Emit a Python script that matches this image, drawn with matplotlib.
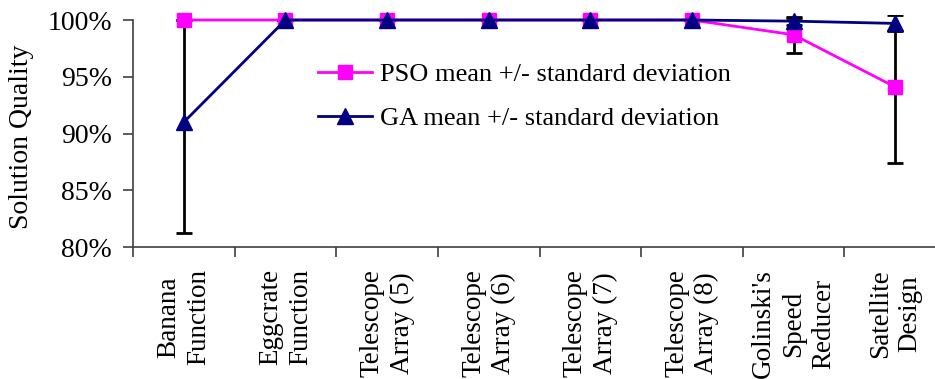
import matplotlib
matplotlib.use("Agg")
import matplotlib.pyplot as plt
import numpy as np

# problems on the x axis (two-line labels)
problems = ["Banana\nFunction", "Eggcrate\nFunction", "Telescope\nArray (5)",
            "Telescope\nArray (6)", "Telescope\nArray (7)", "Telescope\nArray (8)",
            "Golinski's\nSpeed\nReducer", "Satellite\nDesign"]

# mean solution quality (%) and standard deviation
pso_mean = [100.0, 100.0, 100.0, 100.0, 100.0, 100.0, 98.7, 94.1]
pso_std = [0.0, 0.0, 0.0, 0.0, 0.0, 0.0, 1.6, 6.7]
ga_mean = [91.0, 100.0, 100.0, 100.0, 100.0, 100.0, 99.9, 99.7]
ga_std = [9.8, 0.0, 0.0, 0.0, 0.0, 0.0, 0.3, 0.7]

yticks = [80, 85, 90, 95, 100]

plt.rcParams['font.family'] = ['Liberation Serif', 'DejaVu Serif']

W, H = 935, 379
fig = plt.figure(figsize=(W / 100, H / 100), dpi=100)
left, right, top, bottom = 133, 946, 14.9, 247
ax = fig.add_axes([left / W, 1 - bottom / H, (right - left) / W, (bottom - top) / H])

x = np.arange(len(problems))

# error bars first so the markers sit on top
for m, s in [(pso_mean, pso_std), (ga_mean, ga_std)]:
    ax.errorbar(x, m, yerr=s, fmt='none', ecolor='black', elinewidth=2,
                capsize=6, capthick=2, zorder=2)

pso, = ax.plot(x, pso_mean, color='#FF00FF', lw=2, marker='s', markersize=10,
               label='PSO mean +/- standard deviation', zorder=3, clip_on=False)
ga, = ax.plot(x, ga_mean, color='#000080', lw=2, marker='^', markersize=11,
              label='GA mean +/- standard deviation', zorder=4, clip_on=False)

ax.set_xlim(-0.5, len(problems) - 0.5)
ax.set_ylim(80, 100.45)

for sp in ['top', 'right']:
    ax.spines[sp].set_visible(False)
ax.spines['left'].set_bounds(80, 100)
for sp in ['left', 'bottom']:
    ax.spines[sp].set_color('#404040')
    ax.spines[sp].set_linewidth(1.2)

ax.set_yticks(yticks)
ax.set_yticklabels([f"{v}%" for v in yticks], fontsize=20)
ax.tick_params(axis='y', length=7, width=1.2, color='#404040', pad=8)

# category boundaries as major ticks, labels at category centres
ax.set_xticks(np.arange(len(problems) + 1) - 0.5)
ax.set_xticklabels([])
ax.tick_params(axis='x', which='major', length=7, width=1.2, color='#404040')
ax.set_xticks(x, minor=True)
ax.set_xticklabels(problems, minor=True, rotation=90, fontsize=19.5,
                   va='top', ha='center', multialignment='center',
                   linespacing=1.25)
ax.tick_params(axis='x', which='minor', length=0, pad=16)

fig.text(22 / W, 1 - 137 / H, "Solution Quality", rotation=90, fontsize=20,
         ha='center', va='center')

ax.legend(handles=[pso, ga], loc='upper left', bbox_to_anchor=(0.215, 0.84),
          frameon=False, fontsize=19, handlelength=2.05, handletextpad=0.3,
          labelspacing=0.78, borderaxespad=0)

fig.savefig("out.png", dpi=100)
